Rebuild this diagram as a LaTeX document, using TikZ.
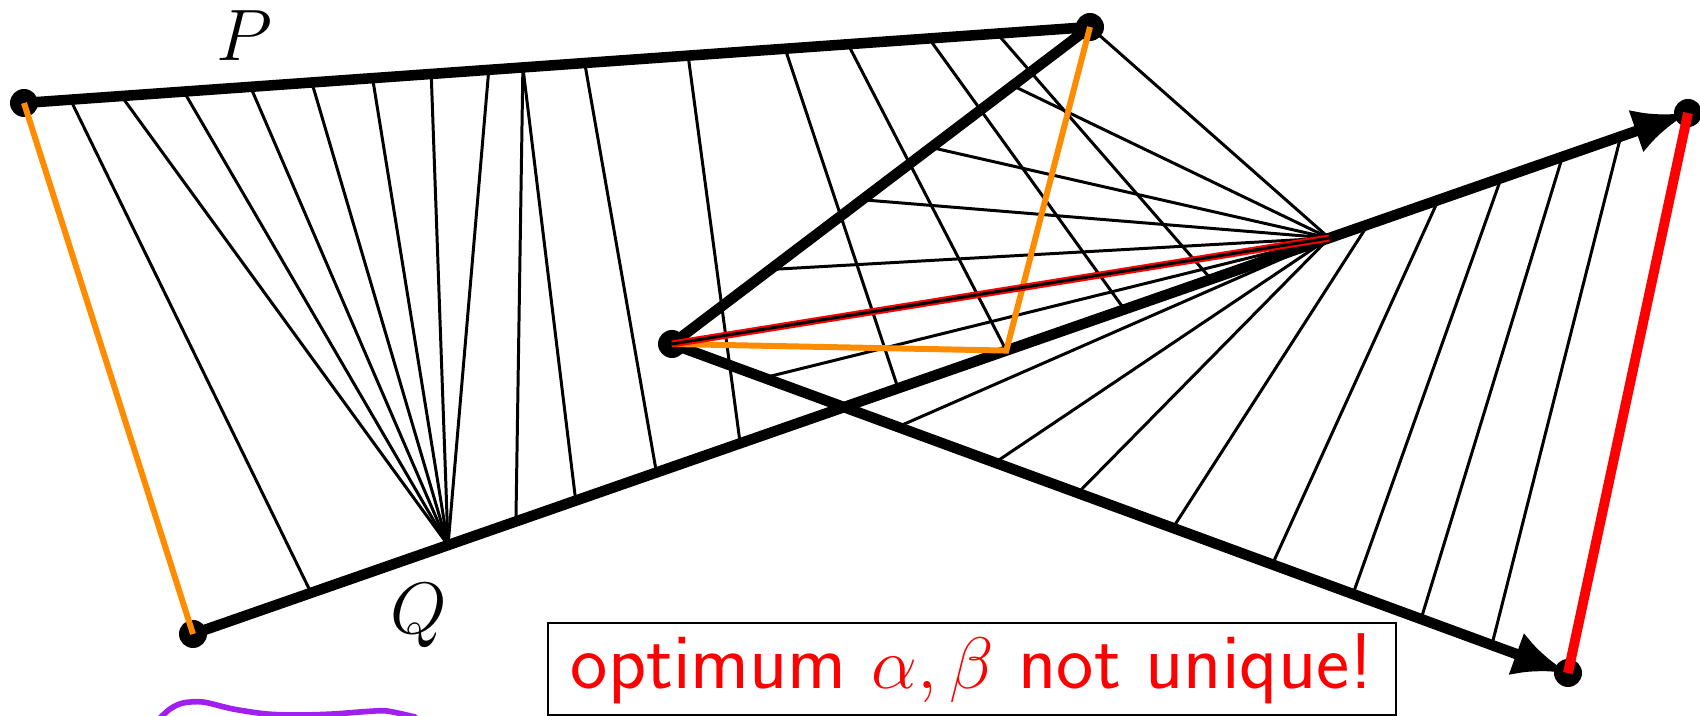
\documentclass[tikz,border=0pt]{standalone}
\usepackage{tikz}
\usetikzlibrary{calc,arrows.meta}
\definecolor{leashorange}{RGB}{255,140,0}
\definecolor{scribble}{RGB}{160,32,240}

\begin{document}
\begin{tikzpicture}[
    curve/.style={line width=3pt, line join=round},
    leash/.style={line width=0.85pt},
    optleash/.style={line width=1.7pt, leashorange},
    badleash/.style={line width=2.8pt, red},
    textbox/.style={rectangle, draw, line width=0.6pt, minimum width=8.48cm, minimum height=0.92cm, inner sep=0pt, font=\fontsize{22.5}{27}\selectfont\sffamily, text=red},
    >={Latex[length=0.55cm, width=0.45cm]},
    font=\huge
]
\useasboundingbox (0,0) rectangle (17,7.16);

\coordinate (P0) at (0.24,6.13);
\coordinate (P1) at (10.90,6.89);
\coordinate (P2) at (6.72,3.72);
\coordinate (P3) at (15.68,0.43);
\coordinate (Q0) at (1.93,0.82);
\coordinate (Q3) at (16.88,6.03);
\coordinate (q1) at ($(Q0)!0.1706!(Q3)$);
\coordinate (q2) at ($(Q0)!0.760!(Q3)$);
\coordinate (qc) at ($(Q0)!0.544!(Q3)$);

% leashes from the first edge of P
\draw[leash] ($(P0)!0.0436!(P1)$) -- ($(Q0)!0.079!(Q3)$);
\draw[leash] ($(P0)!0.0914!(P1)$) -- (q1);
\draw[leash] ($(P0)!0.150!(P1)$) -- (q1);
\draw[leash] ($(P0)!0.2125!(P1)$) -- (q1);
\draw[leash] ($(P0)!0.270!(P1)$) -- (q1);
\draw[leash] ($(P0)!0.327!(P1)$) -- (q1);
\draw[leash] ($(P0)!0.382!(P1)$) -- (q1);
\draw[leash] ($(P0)!0.436!(P1)$) -- (q1);
\draw[leash] ($(P0)!0.468!(P1)$) -- ($(Q0)!0.216!(Q3)$);
\draw[leash] ($(P0)!0.468!(P1)$) -- ($(Q0)!0.256!(Q3)$);
\draw[leash] ($(P0)!0.526!(P1)$) -- ($(Q0)!0.310!(Q3)$);
\draw[leash] ($(P0)!0.623!(P1)$) -- ($(Q0)!0.366!(Q3)$);
\draw[leash] ($(P0)!0.714!(P1)$) -- ($(Q0)!0.4716!(Q3)$);
\draw[leash] ($(P0)!0.773!(P1)$) -- (qc);
\draw[leash] ($(P0)!0.849!(P1)$) -- ($(Q0)!0.623!(Q3)$);
\draw[leash] ($(P0)!0.913!(P1)$) -- ($(Q0)!0.681!(Q3)$);
\draw[leash] (P1) -- (q2);

% fan at q2
\draw[leash] ($(P1)!0.185!(P2)$) -- (q2);
\draw[leash] ($(P1)!0.38!(P2)$) -- (q2);
\draw[leash] ($(P1)!0.545!(P2)$) -- (q2);
\draw[leash] ($(P1)!0.765!(P2)$) -- (q2);
\draw[leash] ($(P2)!0.1027!(P3)$) -- (q2);
\draw[leash] ($(P2)!0.252!(P3)$) -- (q2);
\draw[leash] ($(P2)!0.3605!(P3)$) -- (q2);
\draw[leash] ($(P2)!0.453!(P3)$) -- (q2);

% last edge of P
\draw[leash] ($(Q0)!0.786!(Q3)$) -- ($(P2)!0.559!(P3)$);
\draw[leash] ($(Q0)!0.833!(Q3)$) -- ($(P2)!0.670!(P3)$);
\draw[leash] ($(Q0)!0.875!(Q3)$) -- ($(P2)!0.760!(P3)$);
\draw[leash] ($(Q0)!0.916!(Q3)$) -- ($(P2)!0.836!(P3)$);
\draw[leash] ($(Q0)!0.955!(Q3)$) -- ($(P2)!0.915!(P3)$);

\draw[curve, ->] (P0) -- (P1) -- (P2) -- (P3);
\draw[curve, ->] (Q0) -- (Q3);
\fill (P0) circle (0.14);
\fill (P1) circle (0.14);
\fill (P2) circle (0.14);
\fill (P3) circle (0.14);
\fill (Q0) circle (0.14);
\fill (Q3) circle (0.14);

\draw[optleash] (P0) -- (Q0);
\draw[optleash] (P1) -- (qc) -- (P2);
\draw[badleash] (P3) -- (Q3);
\draw[line width=2pt, red] (P2) -- (q2);
\draw[leash] (P2) -- (q2);

\node (Plabel) at (2.44,6.80) {$P$};
\node (Qlabel) at (4.19,1.00) {$Q$};
\node[textbox] (remark) at (9.72,0.47) {optimum $\alpha,\beta$ not unique!};

\begin{scope}
\clip (0,0) rectangle (17,7.16);
\draw[scribble, line width=1.6pt, line cap=round] plot[smooth] coordinates {(1.58,-0.04) (1.70,0.07) (1.83,0.13) (2.03,0.14) (2.33,0.07) (2.67,0.02) (3.0,0.01) (3.33,0.02) (3.67,0.045) (3.87,0.05) (4.15,-0.01)};
\end{scope}
\end{tikzpicture}
\end{document}
